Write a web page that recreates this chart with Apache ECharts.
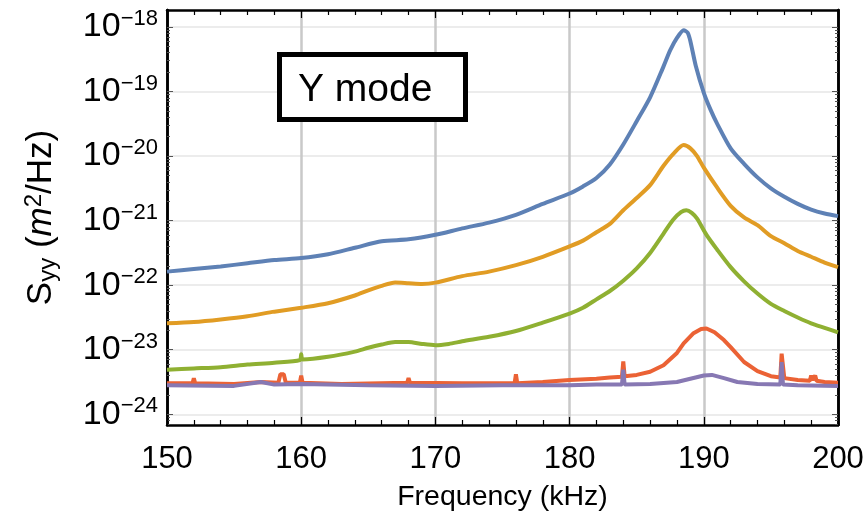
<!DOCTYPE html>
<html>
<head>
<meta charset="utf-8">
<script src="https://cdn.jsdelivr.net/npm/echarts@6/dist/echarts.min.js"></script>
<style>
  html, body { margin: 0; padding: 0; background: #fff; }
  #chart { width: 867px; height: 520px; }
</style>
</head>
<body>
<div id="chart"></div>
<script>
// [frequency kHz, log10 Syy (m^2/Hz)]
const blueCurve = [
  [150, -21.79], [152, -21.75], [154, -21.71], [156, -21.66], [158, -21.61], [160, -21.58],
  [162, -21.52], [164, -21.42], [166, -21.32], [168, -21.29], [170, -21.22], [172, -21.12],
  [174, -21.03], [176, -20.91], [178, -20.74], [180, -20.58], [181, -20.47], [182, -20.34],
  [183, -20.13], [184, -19.82], [185, -19.46], [186, -19.09], [187, -18.61], [187.5, -18.36],
  [188, -18.17], [188.5, -18.05], [188.8, -18.09], [189, -18.22], [189.4, -18.6], [190, -19.02],
  [190.5, -19.28], [191, -19.5], [192, -19.88], [193, -20.12], [194, -20.33], [195, -20.5],
  [196, -20.63], [197, -20.74], [198, -20.83], [199, -20.89], [200, -20.93]
];
const orangeCurve = [
  [150, -22.59], [152, -22.57], [154, -22.53], [156, -22.48], [158, -22.41], [160, -22.35],
  [162, -22.28], [164, -22.16], [165, -22.08], [166, -22.01], [167, -21.96], [168, -21.97],
  [169, -21.98], [170, -21.96], [172, -21.86], [174, -21.79], [176, -21.69], [178, -21.56],
  [180, -21.4], [181, -21.31], [182, -21.18], [183, -21.05], [184, -20.84], [185, -20.65],
  [186, -20.45], [187, -20.15], [187.8, -19.95], [188.5, -19.83], [189, -19.88], [189.5, -20.0],
  [190, -20.18], [191, -20.49], [192, -20.77], [193, -20.95], [194, -21.07], [195, -21.24],
  [196, -21.35], [197, -21.47], [198, -21.56], [199, -21.65], [200, -21.72]
];
const greenCurve = [
  [150, -23.31], [152, -23.29], [154, -23.27], [156, -23.23], [158, -23.2], [159.9, -23.16],
  [160, -23.07], [160.1, -23.15], [162, -23.11], [164, -23.03], [165, -22.97], [166, -22.92],
  [167, -22.88], [168, -22.88], [169, -22.91], [170, -22.93], [171, -22.91], [172, -22.87],
  [174, -22.8], [176, -22.71], [178, -22.58], [180, -22.44], [181, -22.35], [182, -22.22],
  [183, -22.09], [184, -21.93], [185, -21.74], [186, -21.5], [187, -21.2], [187.7, -20.99],
  [188.3, -20.87], [188.7, -20.84], [189.1, -20.88], [189.5, -20.97], [190.2, -21.22],
  [191, -21.45], [192, -21.72], [193, -21.94], [194, -22.13], [195, -22.29], [196, -22.4],
  [197, -22.5], [198, -22.59], [199, -22.66], [200, -22.73]
];
const redCurve = [
  [150, -23.52], [151.9, -23.52], [152, -23.44], [152.1, -23.52], [155, -23.53], [157, -23.5],
  [158.3, -23.51], [158.45, -23.38], [158.7, -23.38], [158.85, -23.51], [159.9, -23.51],
  [160, -23.4], [160.1, -23.51], [163, -23.53], [167.9, -23.51], [168, -23.44], [168.1, -23.51],
  [172, -23.52], [175.9, -23.52], [176, -23.38], [176.1, -23.52], [178, -23.5], [180, -23.47],
  [182, -23.45], [183, -23.43], [183.9, -23.42], [184, -23.18], [184.1, -23.41], [185, -23.39],
  [186, -23.34], [187, -23.24], [188, -23.05], [188.5, -22.9], [189.2, -22.75], [189.8, -22.68],
  [190.2, -22.67], [190.8, -22.73], [191.5, -22.85], [192, -22.96], [193, -23.19], [194, -23.33],
  [195, -23.41], [195.7, -23.43], [195.8, -23.06], [195.9, -23.06], [196, -23.44], [197, -23.47],
  [197.9, -23.48], [198, -23.4], [198.1, -23.47], [198.3, -23.4], [198.4, -23.48], [199, -23.5],
  [200, -23.51]
];
const purpleCurve = [
  [150, -23.55], [155, -23.56], [157, -23.5], [158, -23.54], [160, -23.53], [165, -23.55],
  [170, -23.56], [175, -23.55], [180, -23.55], [182, -23.54], [183.9, -23.54], [184, -23.31],
  [184.1, -23.54], [186, -23.53], [188, -23.5], [189, -23.45], [190, -23.4], [190.6, -23.39],
  [191.5, -23.44], [192.5, -23.5], [194, -23.53], [195.7, -23.54], [195.8, -23.19],
  [195.9, -23.54], [197, -23.55], [200, -23.56]
];

const decadeTicks = [-24, -23, -22, -21, -20, -19, -18];
const minorTicks = [];
for (let d = -25; d <= -18; d++) {
  for (let k = 2; k <= 9; k++) minorTicks.push(d + Math.log10(k));
}

const curves = [
  { name: 'blue', data: blueCurve, color: '#5e81b5', smooth: 0.25 },
  { name: 'orange', data: orangeCurve, color: '#e19c24', smooth: 0.25 },
  { name: 'green', data: greenCurve, color: '#8fb032', smooth: 0.25 },
  { name: 'red', data: redCurve, color: '#eb6235', smooth: false },
  { name: 'purple', data: purpleCurve, color: '#8778b3', smooth: false }
];

const font = 'Liberation Sans, Arial, sans-serif';
const yMin = -24.166, yMax = -17.737;

function yAxisCfg(pos, ticks, len, main) {
  return {
    type: 'value',
    position: pos,
    min: yMin,
    max: yMax,
    axisLine: { show: true, lineStyle: { color: '#000', width: 2.5 } },
    axisTick: { show: true, inside: true, length: len, customValues: ticks,
      lineStyle: { color: '#555', width: 1 } },
    splitLine: { show: main, lineStyle: { color: '#e6e6e6', width: 1.5 } },
    axisLabel: main ? {
      customValues: decadeTicks,
      margin: 9,
      formatter: v => '{b|10}{s|\u2212' + Math.round(-v) + '}',
      rich: {
        b: { fontFamily: font, fontSize: 34, color: '#000' },
        s: { fontFamily: font, fontSize: 22, color: '#000', verticalAlign: 'top', padding: [0, 0, 16, 0] }
      }
    } : { show: false }
  };
}

const chart = echarts.init(document.getElementById('chart'));
chart.setOption({
  animation: false,
  backgroundColor: '#fff',
  grid: { left: 167, right: 29, top: 10, bottom: 95 },
  xAxis: [
    {
      type: 'value', min: 150, max: 200, interval: 10, position: 'bottom',
      name: 'Frequency (kHz)', nameLocation: 'middle', nameGap: 58,
      nameTextStyle: { fontFamily: font, fontSize: 28.5, color: '#000' },
      axisLine: { lineStyle: { color: '#000', width: 2.5 } },
      axisTick: { inside: true, length: 8, lineStyle: { color: '#000', width: 1.2 } },
      minorTick: { show: true, splitNumber: 5, length: 5, lineStyle: { color: '#000', width: 1.2 } },
      splitLine: { show: true, lineStyle: { color: '#c9c9c9', width: 2.5 } },
      axisLabel: { fontFamily: font, fontSize: 31, color: '#000', margin: 19 }
    },
    {
      type: 'value', min: 150, max: 200, interval: 10, position: 'top',
      axisLine: { show: true, lineStyle: { color: '#000', width: 2.5 } },
      axisTick: { inside: true, length: 8, lineStyle: { color: '#000', width: 1.2 } },
      minorTick: { show: true, splitNumber: 5, length: 5, lineStyle: { color: '#000', width: 1.2 } },
      splitLine: { show: false },
      axisLabel: { show: false }
    }
  ],
  yAxis: [
    Object.assign(yAxisCfg('left', decadeTicks, 6, true), {
      name: '{a|S}{sub|yy}{a| (}{i|m}{sup|2}{a|/Hz)}',
      nameLocation: 'middle', nameRotate: 90, nameGap: 107,
      nameTextStyle: {
        rich: {
          a: { fontFamily: font, fontSize: 35, color: '#000' },
          i: { fontFamily: font, fontSize: 35, fontStyle: 'italic', color: '#000' },
          sub: { fontFamily: font, fontSize: 24, color: '#000', verticalAlign: 'bottom', padding: [12, 0, 0, 0] },
          sup: { fontFamily: font, fontSize: 24, color: '#000', verticalAlign: 'top', padding: [0, 0, 14, 0] }
        }
      }
    }),
    yAxisCfg('left', minorTicks, 3, false),
    yAxisCfg('right', decadeTicks, 6, false),
    yAxisCfg('right', minorTicks, 3, false)
  ],
  graphic: [
    {
      type: 'group', left: 277, top: 52, z: 100,
      children: [
        { type: 'rect', z: 100, shape: { x: 2.5, y: 2.5, width: 186, height: 65 },
          style: { fill: '#fff', stroke: '#000', lineWidth: 5 } },
        { type: 'text', z: 101, x: 21, y: 38,
          style: { text: 'Y mode', fontFamily: font, fontSize: 39, fill: '#000', verticalAlign: 'middle' } }
      ]
    }
  ],
  series: curves.map(c => ({
    name: c.name,
    type: 'line',
    xAxisIndex: 0,
    yAxisIndex: 0,
    data: c.data,
    smooth: c.smooth,
    showSymbol: false,
    lineStyle: { color: c.color, width: 4 },
    itemStyle: { color: c.color },
    z: 3
  }))
});
</script>
</body>
</html>
